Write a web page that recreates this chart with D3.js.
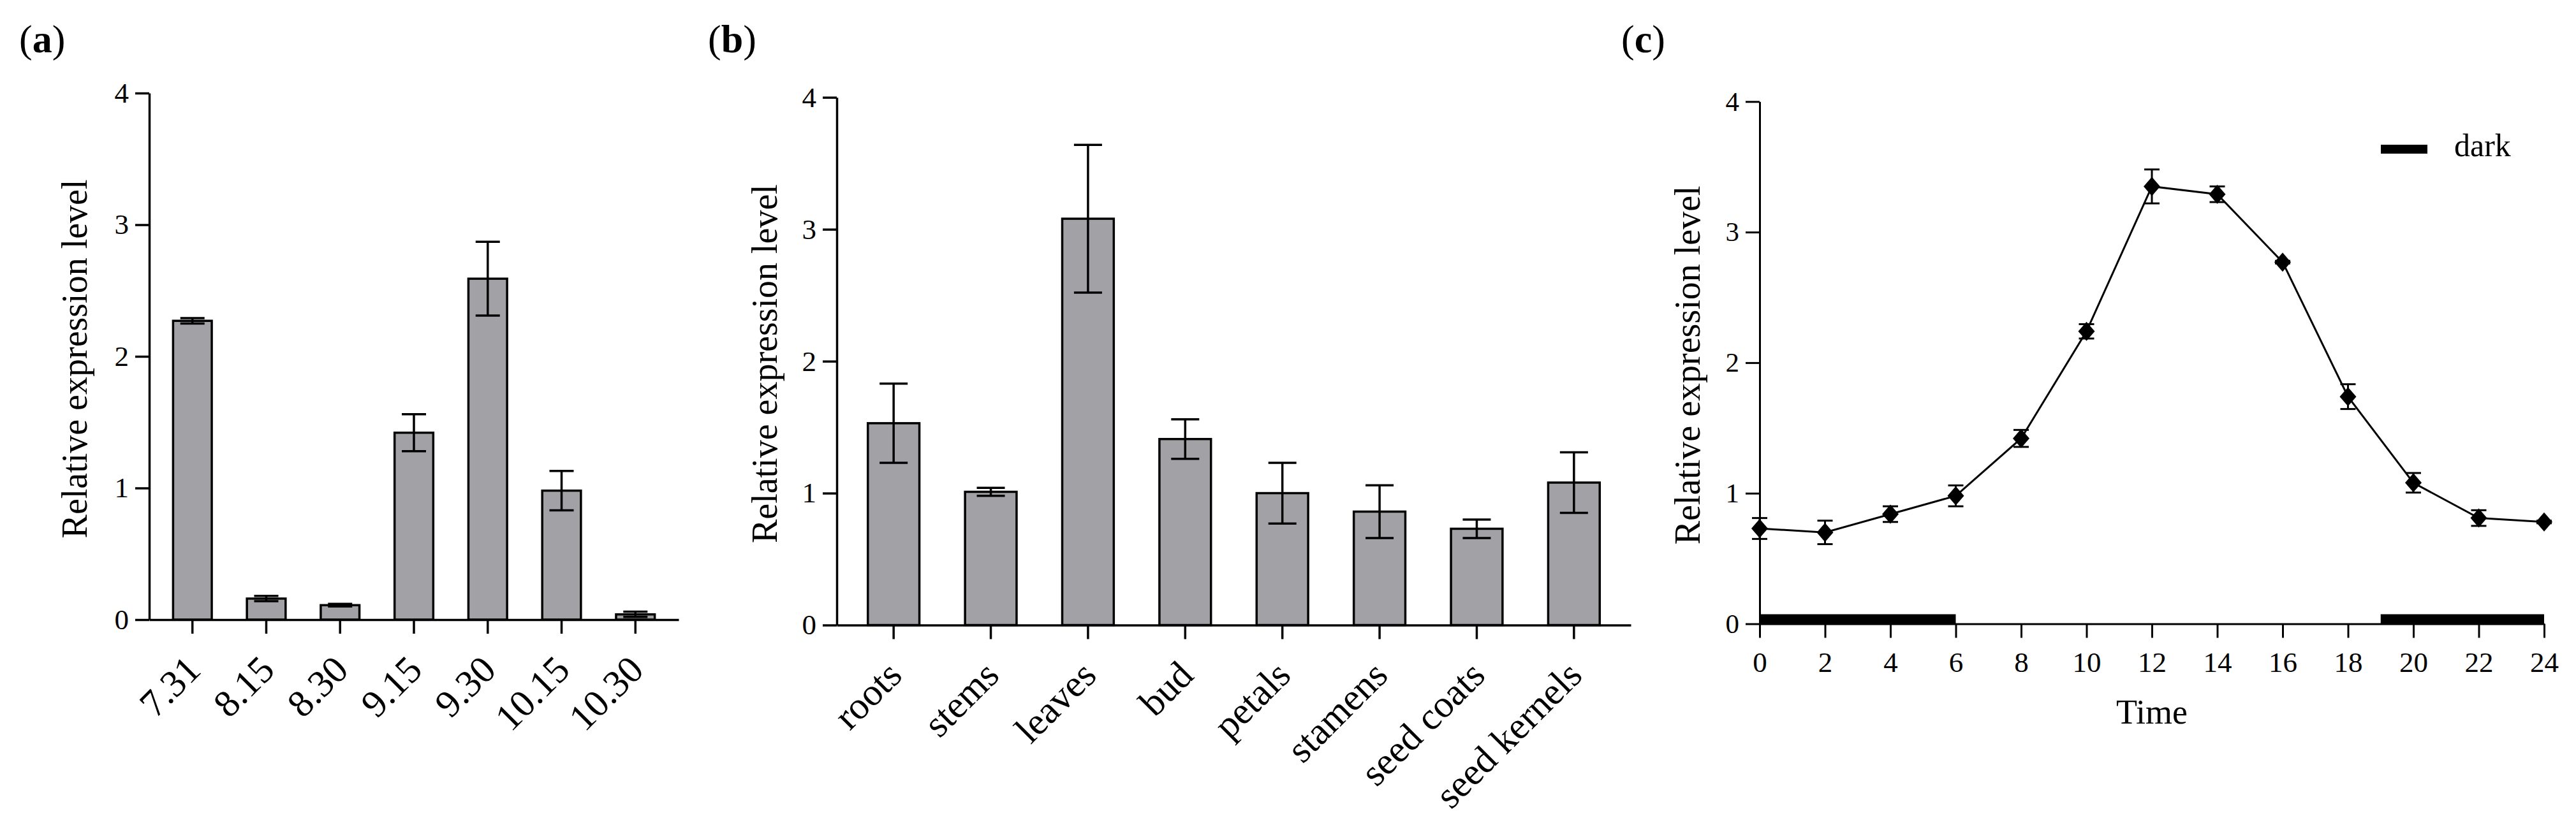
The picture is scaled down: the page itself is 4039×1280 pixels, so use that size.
<!DOCTYPE html>
<html>
<head>
<meta charset="utf-8">
<script src="https://cdn.jsdelivr.net/npm/d3@7"></script>
<style>
  body { margin: 0; background: #fff; }
  svg { display: block; }
  text { font-family: "Liberation Serif", "Times New Roman", serif; fill: #000; }
</style>
</head>
<body>
<script>
// data

var yTicks = [0, 1, 2, 3, 4];

var aDates = ['7.31', '8.15', '8.30', '9.15', '9.30', '10.15', '10.30'];
var aMeans = [2.27, 0.16, 0.11, 1.42, 2.59, 0.98, 0.04];
var aErrs = [0.02, 0.02, 0.01, 0.14, 0.28, 0.15, 0.02];

var bTissues = ['roots', 'stems', 'leaves', 'bud', 'petals', 'stamens', 'seed coats', 'seed kernels'];
var bMeans = [1.53, 1.01, 3.08, 1.41, 1.00, 0.86, 0.73, 1.08];
var bErrs = [0.30, 0.03, 0.56, 0.15, 0.23, 0.20, 0.07, 0.23];

var cHours = [0, 2, 4, 6, 8, 10, 12, 14, 16, 18, 20, 22, 24];
var cMeans = [0.73, 0.70, 0.84, 0.98, 1.42, 2.24, 3.35, 3.29, 2.77, 1.74, 1.08, 0.81, 0.78];
var cErrs = [0.08, 0.09, 0.06, 0.08, 0.065, 0.055, 0.13, 0.06, 0.01, 0.095, 0.075, 0.06, 0.01];
var darkPeriods = [[0, 6], [19, 24]];

var yTitle = 'Relative expression level';
var barFill = '#a2a1a6';

var svg = d3.select('body').append('svg')
    .attr('width', 4039)
    .attr('height', 1280);

function panelLabel(x, letter) {
    var t = svg.append('text')
        .attr('x', x)
        .attr('y', 82)
        .attr('font-size', 62);
    t.append('tspan').text('(');
    t.append('tspan').attr('font-weight', 'bold').text(letter);
    t.append('tspan').text(')');
}

function yAxis(g, y, x0, size, sw) {
    g.append('g')
        .attr('transform', 'translate(' + x0 + ',0)')
        .call(d3.axisLeft(y).tickValues(yTicks).tickFormat(d3.format('d'))
            .tickSize(22).tickSizeOuter(0).tickPadding(10))
        .call(style, size, sw);
}

function style(sel, size, sw) {
    sel.select('.domain').attr('stroke', '#000').attr('stroke-width', sw);
    sel.selectAll('.tick line').attr('stroke', '#000').attr('stroke-width', sw);
    sel.selectAll('.tick text')
        .attr('fill', '#000')
        .attr('font-size', size)
        .attr('font-family', '"Liberation Serif", "Times New Roman", serif');
}

function title(x, cy) {
    svg.append('text')
        .attr('transform', 'translate(' + x + ',' + cy + ') rotate(-90)')
        .attr('text-anchor', 'middle')
        .attr('font-size', 56)
        .text(yTitle);
}

function barPanel(o) {
    var g = svg.append('g');
    var x = d3.scaleBand()
        .domain(o.cats)
        .range([o.x0, o.x1])
        .paddingInner(0.45)
        .paddingOuter(0.31);
    var y = d3.scaleLinear().domain([0, 4]).range([o.y0, o.y1]);
    var rows = o.cats.map(function (c, i) {
        return { c: c, v: o.means[i], e: o.errs[i] };
    });

    g.selectAll('rect.bar')
        .data(rows)
        .enter()
        .append('rect')
        .attr('class', 'bar')
        .attr('x', function (d) { return x(d.c) + 1.5; })
        .attr('width', x.bandwidth() - 3)
        .attr('y', function (d) { return y(d.v); })
        .attr('height', function (d) { return y(0) - y(d.v); })
        .attr('fill', barFill)
        .attr('stroke', '#000')
        .attr('stroke-width', 3.5);

    var eb = g.selectAll('g.err')
        .data(rows)
        .enter()
        .append('g')
        .attr('class', 'err')
        .attr('stroke', '#000')
        .attr('stroke-width', 3.5);
    eb.append('line')
        .attr('x1', function (d) { return x(d.c) + x.bandwidth() / 2; })
        .attr('x2', function (d) { return x(d.c) + x.bandwidth() / 2; })
        .attr('y1', function (d) { return y(d.v + d.e); })
        .attr('y2', function (d) { return y(d.v - d.e); });
    [1, -1].forEach(function (s) {
        eb.append('line')
            .attr('x1', function (d) { return x(d.c) + x.bandwidth() / 2 - o.cap / 2; })
            .attr('x2', function (d) { return x(d.c) + x.bandwidth() / 2 + o.cap / 2; })
            .attr('y1', function (d) { return y(d.v + s * d.e); })
            .attr('y2', function (d) { return y(d.v + s * d.e); });
    });

    var xa = g.append('g')
        .attr('transform', 'translate(0,' + o.y0 + ')')
        .call(d3.axisBottom(x).tickSize(22).tickSizeOuter(0))
        .call(style, 60, 3.5);
    xa.selectAll('.tick text')
        .attr('y', 0)
        .attr('dy', 0)
        .attr('text-anchor', 'end')
        .attr('transform', 'translate(16,' + o.lab + ') rotate(-45)');

    yAxis(g, y, o.x0, 45, 3.5);
    title(o.tx, (o.y0 + o.y1) / 2 + 4);
}

barPanel({ cats: aDates, means: aMeans, errs: aErrs,
    x0: 234, x1: 1064, y0: 972, y1: 146, cap: 38, lab: 82, tx: 136 });
barPanel({ cats: bTissues, means: bMeans, errs: bErrs,
    x0: 1312, x1: 2557, y0: 980.5, y1: 152.7, cap: 44, lab: 82, tx: 1218 });

// panel c: time course
(function () {
    var g = svg.append('g');
    var x = d3.scaleLinear().domain([0, 24]).range([2759, 3989]);
    var y = d3.scaleLinear().domain([0, 4]).range([978.5, 159.3]);
    var rows = cHours.map(function (h, i) {
        return { h: h, v: cMeans[i], e: cErrs[i] };
    });

    g.selectAll('rect.dark')
        .data(darkPeriods)
        .enter()
        .append('rect')
        .attr('class', 'dark')
        .attr('x', function (d) { return x(d[0]); })
        .attr('width', function (d) { return x(d[1]) - x(d[0]); })
        .attr('y', y(0) - 15)
        .attr('height', 15)
        .attr('fill', '#000');

    g.append('g')
        .attr('transform', 'translate(0,' + y(0) + ')')
        .call(d3.axisBottom(x).tickValues(cHours).tickSize(22).tickSizeOuter(0).tickPadding(22))
        .call(style, 45, 3);

    yAxis(g, y, x(0), 43, 3);

    g.append('path')
        .datum(rows)
        .attr('fill', 'none')
        .attr('stroke', '#000')
        .attr('stroke-width', 3)
        .attr('d', d3.line()
            .x(function (d) { return x(d.h); })
            .y(function (d) { return y(d.v); }));

    var eb = g.selectAll('g.err')
        .data(rows)
        .enter()
        .append('g')
        .attr('class', 'err')
        .attr('stroke', '#000')
        .attr('stroke-width', 3);
    eb.append('line')
        .attr('x1', function (d) { return x(d.h); })
        .attr('x2', function (d) { return x(d.h); })
        .attr('y1', function (d) { return y(d.v + d.e); })
        .attr('y2', function (d) { return y(d.v - d.e); });
    [1, -1].forEach(function (s) {
        eb.append('line')
            .attr('x1', function (d) { return x(d.h) - 12; })
            .attr('x2', function (d) { return x(d.h) + 12; })
            .attr('y1', function (d) { return y(d.v + s * d.e); })
            .attr('y2', function (d) { return y(d.v + s * d.e); });
    });

    g.selectAll('path.pt')
        .data(rows)
        .enter()
        .append('path')
        .attr('class', 'pt')
        .attr('transform', function (d) { return 'translate(' + x(d.h) + ',' + y(d.v) + ')'; })
        .attr('d', 'M0,-15L13,0L0,15L-13,0Z')
        .attr('fill', '#000');

    svg.append('text')
        .attr('x', (x(0) + x(24)) / 2)
        .attr('y', 1135)
        .attr('text-anchor', 'middle')
        .attr('font-size', 54)
        .text('Time');

    svg.append('rect')
        .attr('x', 3733)
        .attr('y', 227)
        .attr('width', 73)
        .attr('height', 14)
        .attr('fill', '#000');
    svg.append('text')
        .attr('x', 3848)
        .attr('y', 245)
        .attr('font-size', 50)
        .text('dark');

    title(2665, (y(0) + y(4)) / 2 + 4);
})();

panelLabel(30, 'a');
panelLabel(1110, 'b');
panelLabel(2542, 'c');
</script>
</body>
</html>
